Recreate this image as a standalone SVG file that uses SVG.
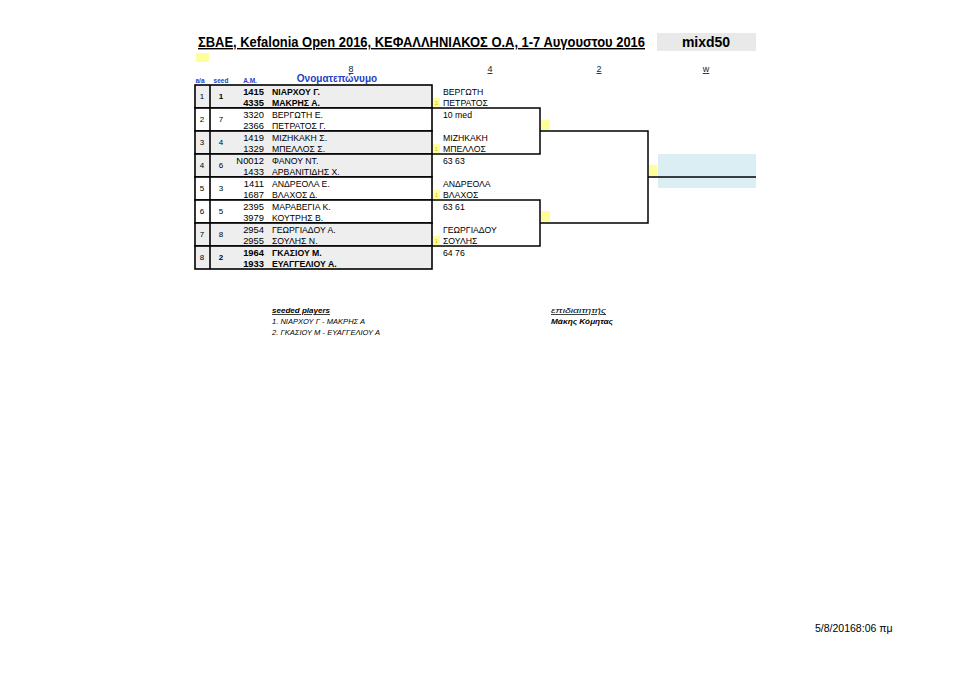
<svg xmlns="http://www.w3.org/2000/svg" width="960" height="678" viewBox="0 0 960 678">
<style>
text{font-family:"Liberation Sans",Arial,sans-serif;fill:#000}
.nm{font-size:8.7px}
.num{font-size:9.4px;text-anchor:end}
.b{font-weight:bold}
.aa{font-size:8px;text-anchor:middle}
.hd{font-size:6.5px;font-weight:bold;fill:#1f3fc4;text-anchor:middle}
.col{font-size:9px;fill:#222;text-anchor:middle;text-decoration:underline}
.cell{stroke:#000;stroke-width:1.6}
.gray{fill:#eeeeee}
.white{fill:#ffffff}
.ln{stroke:#000;stroke-width:1.5;fill:none}
.yel{fill:#ffff99}
.tiny{font-size:5px;fill:#d0b800;text-anchor:middle}
.ft{font-size:7.5px;font-style:italic}
</style>

<g id="header">
  <text x="198" y="47" font-size="14" font-weight="bold" text-decoration="underline" textLength="447" lengthAdjust="spacingAndGlyphs">ΣΒΑΕ, Kefalonia Open 2016, ΚΕΦΑΛΛΗΝΙΑΚΟΣ Ο.Α, 1-7 Αυγουστου 2016</text>
  <rect x="657" y="33" width="99" height="18" fill="#e9e9e9"/>
  <text x="706" y="47" font-size="14" font-weight="bold" text-anchor="middle">mixd50</text>
  <rect x="196" y="53" width="13" height="9" class="yel"/>
  <text x="351" y="72" class="col">8</text>
  <text x="490" y="72" class="col">4</text>
  <text x="599" y="72" class="col">2</text>
  <text x="706" y="72" class="col">w</text>
  <text x="200" y="83" class="hd">a/a</text>
  <text x="221" y="83" class="hd">seed</text>
  <text x="250" y="83" class="hd">A.M.</text>
  <text x="337" y="82" font-size="10" font-weight="bold" text-anchor="middle" style="fill:#1f3fc4">Ονοματεπώνυμο</text>
</g>

<g id="row1">
  <rect x="195" y="85" width="237" height="23" class="cell gray"/>
  <line x1="210" y1="85" x2="210" y2="108" class="cell"/>
  <text x="202" y="99" class="aa">1</text>
  <text x="221" y="99" class="aa b">1</text>
  <text x="264" y="95" class="num b">1415</text><text x="272" y="95" class="nm b" font-size="9">ΝΙΑΡΧΟΥ Γ.</text>
  <text x="264" y="106" class="num b">4335</text><text x="272" y="106" class="nm b" font-size="9">ΜΑΚΡΗΣ Α.</text>
</g>
<g id="row2">
  <rect x="195" y="108" width="237" height="23" class="cell white"/>
  <line x1="210" y1="108" x2="210" y2="131" class="cell"/>
  <text x="202" y="122" class="aa">2</text>
  <text x="221" y="122" class="aa">7</text>
  <text x="264" y="118" class="num">3320</text><text x="272" y="118" class="nm">ΒΕΡΓΩΤΗ Ε.</text>
  <text x="264" y="129" class="num">2366</text><text x="272" y="129" class="nm">ΠΕΤΡΑΤΟΣ Γ.</text>
</g>
<g id="row3">
  <rect x="195" y="131" width="237" height="23" class="cell gray"/>
  <line x1="210" y1="131" x2="210" y2="154" class="cell"/>
  <text x="202" y="145" class="aa">3</text>
  <text x="221" y="145" class="aa">4</text>
  <text x="264" y="141" class="num">1419</text><text x="272" y="141" class="nm">ΜΙΖΗΚΑΚΗ Σ.</text>
  <text x="264" y="152" class="num">1329</text><text x="272" y="152" class="nm">ΜΠΕΛΛΟΣ Σ.</text>
</g>
<g id="row4">
  <rect x="195" y="154" width="237" height="23" class="cell gray"/>
  <line x1="210" y1="154" x2="210" y2="177" class="cell"/>
  <text x="202" y="168" class="aa">4</text>
  <text x="221" y="168" class="aa">6</text>
  <text x="264" y="164" class="num">N0012</text><text x="272" y="164" class="nm">ΦΑΝΟΥ ΝΤ.</text>
  <text x="264" y="175" class="num">1433</text><text x="272" y="175" class="nm">ΑΡΒΑΝΙΤΙΔΗΣ Χ.</text>
</g>
<g id="row5">
  <rect x="195" y="177" width="237" height="23" class="cell white"/>
  <line x1="210" y1="177" x2="210" y2="200" class="cell"/>
  <text x="202" y="191" class="aa">5</text>
  <text x="221" y="191" class="aa">3</text>
  <text x="264" y="187" class="num">1411</text><text x="272" y="187" class="nm">ΑΝΔΡΕΟΛΑ Ε.</text>
  <text x="264" y="198" class="num">1687</text><text x="272" y="198" class="nm">ΒΛΑΧΟΣ Δ.</text>
</g>
<g id="row6">
  <rect x="195" y="200" width="237" height="23" class="cell white"/>
  <line x1="210" y1="200" x2="210" y2="223" class="cell"/>
  <text x="202" y="214" class="aa">6</text>
  <text x="221" y="214" class="aa">5</text>
  <text x="264" y="210" class="num">2395</text><text x="272" y="210" class="nm">ΜΑΡΑΒΕΓΙΑ Κ.</text>
  <text x="264" y="221" class="num">3979</text><text x="272" y="221" class="nm">ΚΟΥΤΡΗΣ Β.</text>
</g>
<g id="row7">
  <rect x="195" y="223" width="237" height="23" class="cell gray"/>
  <line x1="210" y1="223" x2="210" y2="246" class="cell"/>
  <text x="202" y="237" class="aa">7</text>
  <text x="221" y="237" class="aa">8</text>
  <text x="264" y="233" class="num">2954</text><text x="272" y="233" class="nm">ΓΕΩΡΓΙΑΔΟΥ Α.</text>
  <text x="264" y="244" class="num">2955</text><text x="272" y="244" class="nm">ΣΟΥΛΗΣ Ν.</text>
</g>
<g id="row8">
  <rect x="195" y="246" width="237" height="23" class="cell gray"/>
  <line x1="210" y1="246" x2="210" y2="269" class="cell"/>
  <text x="202" y="260" class="aa">8</text>
  <text x="221" y="260" class="aa b">2</text>
  <text x="264" y="256" class="num b">1964</text><text x="272" y="256" class="nm b" font-size="9">ΓΚΑΣΙΟΥ Μ.</text>
  <text x="264" y="267" class="num b">1933</text><text x="272" y="267" class="nm b" font-size="9">ΕΥΑΓΓΕΛΙΟΥ Α.</text>
</g>

<g id="connectors">
  <path class="ln" d="M432 108H540V154H432"/>
  <path class="ln" d="M432 200H540V246H432"/>
  <path class="ln" d="M540 131H648V223H540"/>
  <rect x="658" y="154" width="98" height="34" fill="#dbeef4"/>
  <path class="ln" d="M648 177H756"/>
</g>

<g id="qf1">
  <rect x="433" y="98" width="7" height="9" class="yel"/><text x="436.5" y="105" class="tiny">2</text>
  <text x="443" y="95" class="nm">ΒΕΡΓΩΤΗ</text>
  <text x="443" y="106" class="nm">ΠΕΤΡΑΤΟΣ</text>
  <text x="443" y="118" class="nm" font-size="9.3">10 med</text>
</g>
<g id="qf2">
  <rect x="433" y="144" width="7" height="9" class="yel"/><text x="436.5" y="151" class="tiny">1</text>
  <text x="443" y="141" class="nm">ΜΙΖΗΚΑΚΗ</text>
  <text x="443" y="152" class="nm">ΜΠΕΛΛΟΣ</text>
  <text x="443" y="164" class="nm" font-size="9.3">63 63</text>
</g>
<g id="qf3">
  <rect x="433" y="190" width="7" height="9" class="yel"/><text x="436.5" y="197" class="tiny">1</text>
  <text x="443" y="187" class="nm">ΑΝΔΡΕΟΛΑ</text>
  <text x="443" y="198" class="nm">ΒΛΑΧΟΣ</text>
  <text x="443" y="210" class="nm" font-size="9.3">63 61</text>
</g>
<g id="qf4">
  <rect x="433" y="236" width="7" height="9" class="yel"/><text x="436.5" y="243" class="tiny">1</text>
  <text x="443" y="233" class="nm">ΓΕΩΡΓΙΑΔΟΥ</text>
  <text x="443" y="244" class="nm">ΣΟΥΛΗΣ</text>
  <text x="443" y="256" class="nm" font-size="9.3">64 76</text>
</g>
<g id="sf1"><rect x="541" y="120" width="9" height="10" class="yel"/></g>
<g id="sf2"><rect x="541" y="211" width="9" height="10" class="yel"/></g>
<g id="final"><rect x="649" y="165" width="8" height="11" class="yel"/></g>

<g id="footer">
  <text x="272" y="313" class="ft" font-size="8" font-weight="bold" text-decoration="underline" textLength="58" lengthAdjust="spacingAndGlyphs">seeded players</text>
  <text x="272" y="324" class="ft" textLength="93" lengthAdjust="spacingAndGlyphs">1. ΝΙΑΡΧΟΥ Γ - ΜΑΚΡΗΣ Α</text>
  <text x="272" y="335" class="ft" textLength="108" lengthAdjust="spacingAndGlyphs">2. ΓΚΑΣΙΟΥ Μ - ΕΥΑΓΓΕΛΙΟΥ Α</text>
  <text x="551" y="313" class="ft" font-size="8" text-decoration="underline" textLength="55" lengthAdjust="spacingAndGlyphs">επιδιαιτητής</text>
  <text x="551" y="324" class="ft" font-size="8.5" font-weight="bold" textLength="62" lengthAdjust="spacingAndGlyphs">Μάκης Κόμητας</text>
  <text x="815" y="632" font-size="10.5">5/8/20168:06 πμ</text>
</g>
</svg>
